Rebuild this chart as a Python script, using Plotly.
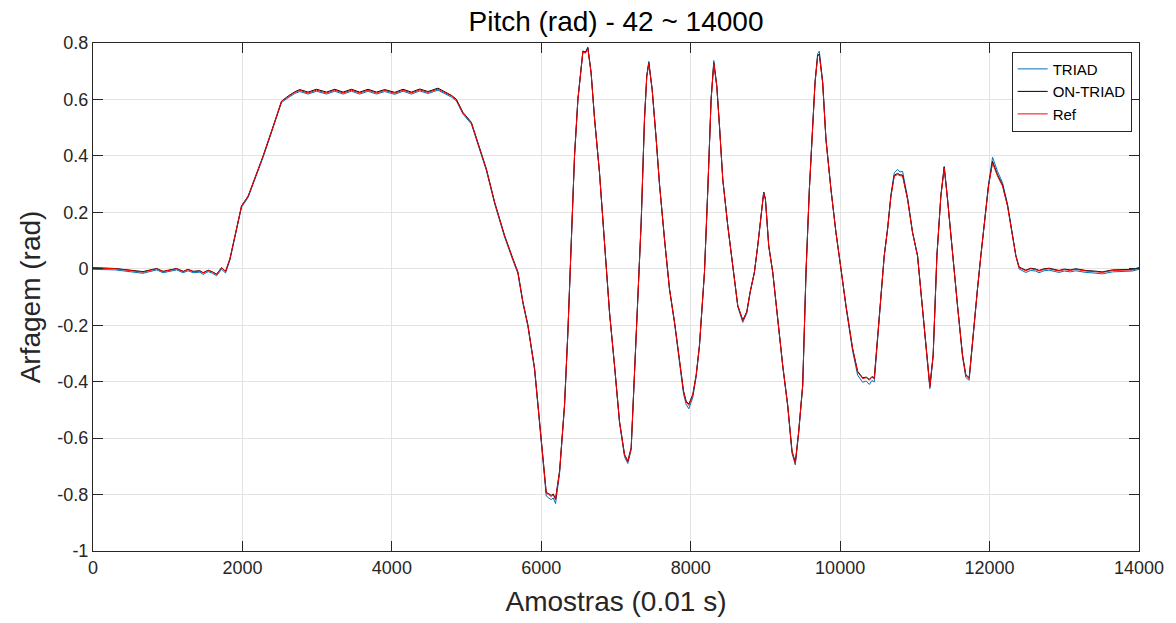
import plotly.graph_objects as go

# Sample index (0.01 s steps)
samples = [0, 300, 669, 760, 851, 938, 1030, 1119, 1206, 1272, 1341, 1431, 1475, 1542, 1600, 1654, 1721, 1774,
           1832, 1922, 1988, 2077, 2180, 2277, 2400, 2523, 2612, 2700, 2768, 2879, 2991, 3125, 3236, 3347, 3459,
           3570, 3681, 3794, 3905, 4038, 4150, 4262, 4373, 4484, 4617, 4729, 4800, 4863, 4952, 5064, 5175, 5265,
           5376, 5509, 5620, 5687, 5754, 5821, 5910, 6000, 6066, 6100, 6133, 6160, 6191, 6245, 6311, 6356, 6401,
           6445, 6490, 6535, 6557, 6592, 6623, 6667, 6712, 6779, 6846, 6913, 6980, 7047, 7114, 7158, 7203, 7248,
           7292, 7337, 7381, 7412, 7439, 7484, 7538, 7582, 7649, 7716, 7783, 7850, 7904, 7939, 7975, 8028, 8073,
           8117, 8184, 8229, 8273, 8309, 8349, 8385, 8429, 8496, 8563, 8630, 8697, 8750, 8795, 8852, 8897, 8942,
           8977, 9000, 9044, 9098, 9164, 9231, 9298, 9356, 9400, 9445, 9499, 9543, 9588, 9632, 9664, 9699, 9721,
           9766, 9810, 9877, 9944, 10011, 10078, 10167, 10234, 10301, 10350, 10390, 10425, 10457, 10501, 10546,
           10590, 10635, 10680, 10724, 10769, 10800, 10836, 10902, 10969, 11036, 11081, 11139, 11201, 11245, 11295,
           11348, 11393, 11437, 11504, 11571, 11638, 11682, 11727, 11772, 11838, 11883, 11928, 11986, 12040, 12107,
           12173, 12240, 12307, 12352, 12396, 12485, 12551, 12618, 12662, 12730, 12797, 12860, 12931, 13000, 13080,
           13154, 13220, 13288, 13400, 13510, 13644, 13800, 13911, 14000]

triad = [-0.002, -0.004, -0.016, -0.010, -0.004, -0.014, -0.008, -0.004, -0.014, -0.007, -0.014, -0.012, -0.020,
         -0.010, -0.016, -0.025, -0.002, -0.015, 0.030, 0.136, 0.218, 0.253, 0.326, 0.395, 0.491, 0.589, 0.606,
         0.621, 0.628, 0.619, 0.629, 0.619, 0.629, 0.619, 0.629, 0.619, 0.629, 0.619, 0.628, 0.618, 0.629, 0.619,
         0.630, 0.621, 0.633, 0.618, 0.608, 0.595, 0.548, 0.513, 0.426, 0.348, 0.230, 0.112, 0.030, -0.017, -0.123,
         -0.205, -0.358, -0.630, -0.805, -0.812, -0.818, -0.812, -0.832, -0.725, -0.488, -0.228, 0.103, 0.398,
         0.600, 0.718, 0.772, 0.768, 0.786, 0.696, 0.536, 0.341, 0.081, -0.156, -0.345, -0.546, -0.666, -0.690,
         -0.642, -0.369, -0.133, 0.164, 0.530, 0.685, 0.735, 0.637, 0.460, 0.301, 0.104, -0.075, -0.193, -0.325,
         -0.444, -0.481, -0.496, -0.456, -0.383, -0.275, -0.014, 0.283, 0.603, 0.738, 0.650, 0.508, 0.318, 0.152,
         -0.003, -0.135, -0.190, -0.158, -0.086, -0.015, 0.080, 0.200, 0.272, 0.247, 0.081, -0.014, -0.191, -0.345,
         -0.488, -0.654, -0.695, -0.583, -0.416, -0.013, 0.284, 0.522, 0.664, 0.762, 0.771, 0.664, 0.462, 0.283,
         0.128, -0.002, -0.136, -0.292, -0.377, -0.402, -0.398, -0.410, -0.396, -0.401, -0.255, -0.075, 0.046,
         0.143, 0.263, 0.340, 0.352, 0.343, 0.345, 0.253, 0.130, 0.046, -0.085, -0.229, -0.425, -0.310, 0.046,
         0.260, 0.363, 0.249, 0.046, -0.133, -0.312, -0.385, -0.395, -0.252, -0.073, 0.046, 0.155, 0.300, 0.395,
         0.345, 0.305, 0.230, 0.120, 0.045, -0.001, -0.013, -0.006, -0.008, -0.014, -0.007, -0.005, -0.010, -0.013,
         -0.008, -0.011, -0.007, -0.011, -0.013, -0.015, -0.018, -0.011, -0.009, -0.008, -0.002]

on_triad = [0.004, 0.001, -0.010, -0.005, 0.001, -0.009, -0.003, 0.001, -0.009, -0.002, -0.009, -0.007, -0.014,
            -0.005, -0.011, -0.019, 0.004, -0.009, 0.035, 0.141, 0.223, 0.258, 0.331, 0.400, 0.496, 0.594, 0.612,
            0.627, 0.635, 0.626, 0.636, 0.626, 0.636, 0.626, 0.636, 0.626, 0.636, 0.626, 0.635, 0.625, 0.636, 0.626,
            0.637, 0.628, 0.640, 0.624, 0.614, 0.601, 0.554, 0.519, 0.432, 0.354, 0.236, 0.118, 0.036, -0.011,
            -0.117, -0.199, -0.352, -0.622, -0.792, -0.797, -0.803, -0.798, -0.815, -0.716, -0.482, -0.223, 0.107,
            0.401, 0.601, 0.717, 0.770, 0.767, 0.783, 0.694, 0.535, 0.341, 0.082, -0.153, -0.341, -0.540, -0.658,
            -0.681, -0.634, -0.364, -0.130, 0.165, 0.529, 0.682, 0.730, 0.635, 0.459, 0.301, 0.106, -0.071, -0.188,
            -0.317, -0.433, -0.469, -0.480, -0.445, -0.376, -0.271, -0.012, 0.282, 0.600, 0.730, 0.647, 0.506, 0.317,
            0.153, 0.000, -0.130, -0.182, -0.152, -0.082, -0.012, 0.082, 0.200, 0.271, 0.247, 0.082, -0.012, -0.188,
            -0.341, -0.482, -0.646, -0.686, -0.576, -0.411, -0.012, 0.282, 0.518, 0.660, 0.755, 0.761, 0.660, 0.459,
            0.282, 0.129, 0.001, -0.130, -0.282, -0.363, -0.386, -0.384, -0.392, -0.382, -0.386, -0.246, -0.071,
            0.046, 0.141, 0.259, 0.331, 0.338, 0.333, 0.332, 0.248, 0.129, 0.046, -0.082, -0.223, -0.416, -0.305,
            0.046, 0.258, 0.360, 0.247, 0.046, -0.130, -0.305, -0.375, -0.386, -0.246, -0.071, 0.046, 0.153, 0.295,
            0.380, 0.333, 0.297, 0.225, 0.118, 0.047, 0.006, -0.005, 0.002, -0.001, -0.006, 0.000, 0.002, -0.003,
            -0.006, -0.001, -0.004, 0.000, -0.004, -0.006, -0.008, -0.011, -0.004, -0.003, -0.002, 0.004]

ref = [0.003, 0.000, -0.012, -0.006, 0.000, -0.010, -0.004, 0.000, -0.010, -0.003, -0.010, -0.008, -0.015,
       -0.006, -0.012, -0.020, 0.003, -0.010, 0.034, 0.140, 0.222, 0.257, 0.330, 0.399, 0.495, 0.593, 0.610,
       0.625, 0.632, 0.623, 0.633, 0.623, 0.633, 0.623, 0.633, 0.623, 0.633, 0.623, 0.632, 0.622, 0.633, 0.623,
       0.634, 0.625, 0.637, 0.622, 0.612, 0.599, 0.552, 0.517, 0.430, 0.352, 0.234, 0.116, 0.034, -0.013, -0.119,
       -0.201, -0.354, -0.625, -0.795, -0.800, -0.807, -0.800, -0.819, -0.719, -0.484, -0.225, 0.105, 0.399,
       0.599, 0.716, 0.769, 0.764, 0.781, 0.693, 0.534, 0.340, 0.081, -0.154, -0.342, -0.542, -0.660, -0.684,
       -0.637, -0.366, -0.131, 0.164, 0.528, 0.681, 0.728, 0.634, 0.458, 0.300, 0.105, -0.072, -0.189, -0.319,
       -0.436, -0.472, -0.484, -0.448, -0.378, -0.272, -0.013, 0.281, 0.599, 0.728, 0.646, 0.505, 0.316, 0.152,
       -0.001, -0.131, -0.184, -0.154, -0.083, -0.013, 0.081, 0.199, 0.270, 0.246, 0.081, -0.013, -0.189, -0.342,
       -0.484, -0.648, -0.689, -0.578, -0.413, -0.013, 0.281, 0.517, 0.658, 0.752, 0.758, 0.658, 0.458, 0.281,
       0.128, 0.000, -0.131, -0.284, -0.366, -0.389, -0.386, -0.395, -0.385, -0.389, -0.248, -0.072, 0.045,
       0.140, 0.257, 0.328, 0.334, 0.330, 0.328, 0.246, 0.128, 0.045, -0.083, -0.225, -0.419, -0.307, 0.045,
       0.257, 0.358, 0.246, 0.045, -0.131, -0.307, -0.378, -0.389, -0.248, -0.072, 0.045, 0.152, 0.293, 0.375,
       0.328, 0.293, 0.222, 0.116, 0.045, 0.004, -0.007, 0.000, -0.003, -0.008, -0.002, 0.000, -0.005, -0.008,
       -0.003, -0.006, -0.002, -0.006, -0.008, -0.010, -0.013, -0.006, -0.005, -0.004, 0.002]

x_tick_vals = [0, 2000, 4000, 6000, 8000, 10000, 12000, 14000]
x_tick_text = ["0", "2000", "4000", "6000", "8000", "10000", "12000", "14000"]
y_tick_vals = [0.8, 0.6, 0.4, 0.2, 0.0, -0.2, -0.4, -0.6, -0.8, -1.0]
y_tick_text = ["0.8", "0.6", "0.4", "0.2", "0", "-0.2", "-0.4", "-0.6", "-0.8", "-1"]

FONT = "Liberation Sans, Arial, Helvetica, sans-serif"

fig = go.Figure()
fig.add_trace(go.Scatter(x=samples, y=triad, mode="lines", name="TRIAD",
                         line=dict(color="rgb(0,114,189)", width=1)))
fig.add_trace(go.Scatter(x=samples, y=on_triad, mode="lines", name="ON-TRIAD",
                         line=dict(color="black", width=1)))
fig.add_trace(go.Scatter(x=samples, y=ref, mode="lines", name="Ref",
                         line=dict(color="red", width=1)))

axis_common = dict(showline=True, linecolor="#262626", linewidth=1, mirror="ticks",
                   ticks="inside", ticklen=10, tickcolor="#262626", tickwidth=1,
                   showgrid=True, gridcolor="#e3e3e3", gridwidth=1, zeroline=False,
                   tickfont=dict(family=FONT, size=18, color="#262626"))

fig.update_layout(
    width=1176, height=623,
    margin=dict(l=93, r=36, t=43, b=70),
    paper_bgcolor="white", plot_bgcolor="white",
    font=dict(family=FONT, color="#000"),
    title=dict(text="Pitch (rad) - 42 ~ 14000", x=0.5, xref="paper", xanchor="center",
               y=1 - 21 / 623, yref="container", yanchor="middle",
               font=dict(family=FONT, size=28, color="#000")),
    xaxis=dict(range=[0, 14000], tickvals=x_tick_vals, ticktext=x_tick_text,
               title=dict(text="Amostras (0.01 s)", font=dict(family=FONT, size=28, color="#262626"),
                          standoff=14),
               **axis_common),
    yaxis=dict(range=[-1, 0.8], tickvals=y_tick_vals, ticktext=y_tick_text,
               title=dict(text="Arfagem (rad)", font=dict(family=FONT, size=28, color="#262626"),
                          standoff=8),
               **axis_common),
    legend=dict(x=0.993, y=0.983, xanchor="right", yanchor="top",
                bgcolor="white", bordercolor="#262626", borderwidth=1,
                font=dict(family=FONT, size=15, color="#000"),
                tracegroupgap=0, itemwidth=30),
    showlegend=True,
)

fig.write_html("out.html", config={"displayModeBar": False},
               post_script="document.body.style.margin='0px';")
